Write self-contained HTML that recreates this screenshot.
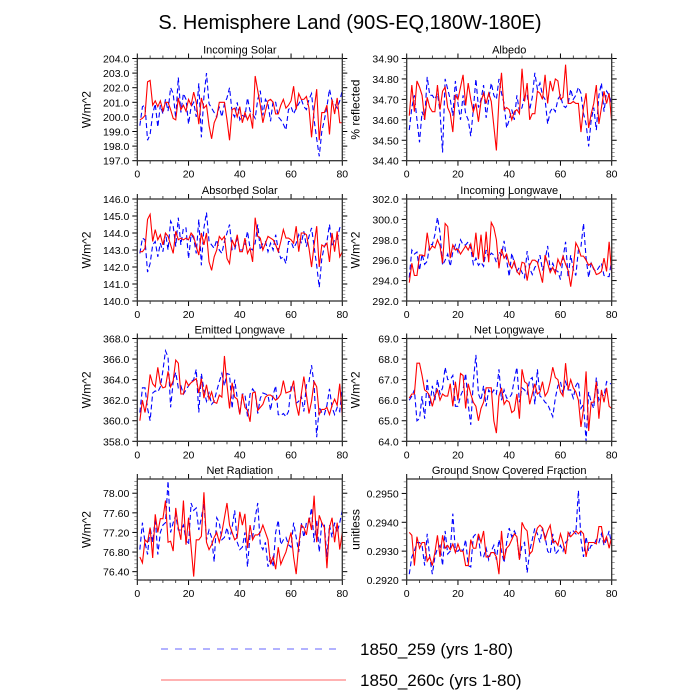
<!DOCTYPE html>
<html><head><meta charset="utf-8">
<style>
html,body{margin:0;padding:0;background:#fff;}
svg{display:block;font-family:"Liberation Sans",Arial,sans-serif;}
</style></head>
<body>
<svg id="chart" width="700" height="700" viewBox="0 0 700 700">
<text x="350" y="29" text-anchor="middle" font-size="20">S. Hemisphere Land (90S-EQ,180W-180E)</text>
<g>
<line x1="161" y1="649" x2="342" y2="649" stroke="#6666ff" stroke-width="1" stroke-dasharray="7,7"/>
<text x="360" y="655" font-size="17">1850_259 (yrs 1-80)</text>
<line x1="161" y1="680" x2="346" y2="680" stroke="#ff6666" stroke-width="1"/>
<text x="360" y="686" font-size="17">1850_260c (yrs 1-80)</text>
</g>
</svg>
<script>
const years = Array.from({length:80},(_,i)=>i+1);
const xTicks = [0,20,40,60,80];
const panelTitles = ["Incoming Solar","Albedo","Absorbed Solar","Incoming Longwave","Emitted Longwave","Net Longwave","Net Radiation","Ground Snow Covered Fraction"];
const yTitles = ["W/m^2","% reflected","W/m^2","W/m^2","W/m^2","W/m^2","W/m^2","unitless"];
const yMins = [197,34.40,140,292,358,64,76.23,0.2920];
const yMaxs = [204,34.90,146,302,368,69,78.29,0.2955];
const yTickStart = [197,34.40,140,292,358,64,76.40,0.2920];
const yTickStep = [1,0.1,1,2,2,1,0.4,0.001];
const yTickEnd = [204,34.90,146,302,368,69,78.00,0.2950];
const yDecimals = [1,2,1,1,1,1,2,4];

const red0 = [199.8,199.9,200.1,202.4,202.5,200.8,201.1,200.7,201.1,200.4,201.0,201.0,200.5,199.9,199.8,201.3,200.5,200.8,200.4,201.2,200.8,201.7,201.0,199.5,201.3,200.6,200.8,199.4,198.5,199.6,200.0,201.0,201.0,201.0,199.8,198.4,200.5,200.6,200.0,200.7,199.6,200.3,199.8,200.2,199.2,202.8,201.8,200.8,199.6,200.4,201.1,201.2,201.0,200.2,200.2,200.8,201.2,200.6,200.8,201.1,202.1,200.5,201.6,201.2,201.2,201.4,200.6,198.6,200.5,201.9,198.4,200.3,200.3,200.8,198.8,201.2,200.2,201.3,199.6,199.6];
const blue0 = [199.4,200.7,200.8,198.4,198.8,200.2,200.9,199.3,200.8,200.2,201.2,200.4,202.0,201.6,199.9,202.7,200.3,201.6,201.2,199.5,200.7,201.0,200.0,202.3,198.6,201.4,203.0,200.9,200.6,200.3,200.0,200.7,200.0,200.9,201.3,202.0,200.3,200.0,201.0,199.8,200.1,200.0,201.3,200.4,200.2,199.9,201.2,201.8,200.1,201.2,200.9,199.7,201.1,201.0,200.0,199.8,199.5,199.1,200.5,200.7,200.2,200.6,200.9,201.2,200.7,200.5,201.2,201.6,199.8,198.5,197.3,199.0,199.8,200.7,201.9,201.1,200.9,200.6,201.1,201.8];
const red1 = [34.62,34.77,34.64,34.79,34.76,34.72,34.60,34.71,34.66,34.64,34.64,34.77,34.65,34.74,34.76,34.66,34.63,34.54,34.72,34.70,34.76,34.82,34.67,34.78,34.70,34.64,34.68,34.59,34.69,34.73,34.68,34.73,34.69,34.57,34.45,34.70,34.83,34.65,34.66,34.65,34.60,34.64,34.65,34.63,34.85,34.69,34.78,34.60,34.63,34.63,34.74,34.73,34.70,34.82,34.68,34.79,34.74,34.80,34.79,34.70,34.71,34.87,34.68,34.68,34.69,34.68,34.68,34.54,34.66,34.73,34.56,34.63,34.68,34.77,34.58,34.66,34.74,34.68,34.73,34.59];
const blue1 = [34.55,34.66,34.72,34.60,34.49,34.64,34.60,34.81,34.72,34.72,34.70,34.73,34.64,34.44,34.80,34.75,34.70,34.62,34.79,34.68,34.60,34.72,34.63,34.60,34.52,34.65,34.80,34.66,34.70,34.77,34.61,34.70,34.78,34.72,34.70,34.80,34.73,34.68,34.56,34.60,34.65,34.60,34.72,34.64,34.66,34.72,34.72,34.65,34.71,34.83,34.75,34.78,34.72,34.70,34.58,34.64,34.66,34.64,34.70,34.72,34.67,34.66,34.68,34.75,34.70,34.72,34.76,34.73,34.63,34.58,34.47,34.60,34.66,34.55,34.72,34.78,34.64,34.74,34.72,34.68];
const red2 = [142.9,142.9,143.1,144.8,145.1,143.5,144.2,143.6,143.9,143.3,144.0,143.8,143.3,142.8,144.1,143.6,143.7,143.6,143.7,143.6,144.0,143.8,143.2,142.7,144.0,143.3,144.0,142.3,141.8,142.6,143.0,143.8,143.6,143.8,142.5,142.2,143.6,143.2,143.9,142.9,142.9,143.7,142.8,143.1,142.3,144.9,143.8,143.7,143.0,143.4,143.8,143.7,143.6,143.3,142.9,143.5,144.2,143.7,143.7,143.6,143.4,144.4,142.9,144.0,144.0,143.9,143.1,142.0,143.3,144.4,142.0,143.3,143.2,143.4,142.3,144.0,142.9,144.1,142.6,142.9];
const blue2 = [142.8,143.7,143.6,141.7,142.2,143.3,143.5,142.6,143.4,142.9,144.0,143.0,144.7,144.4,143.2,144.9,143.3,144.3,144.3,142.5,143.9,143.7,142.8,144.8,142.1,144.3,145.2,143.5,143.3,143.1,143.6,143.0,142.8,143.5,144.0,144.5,143.0,143.0,143.7,143.0,143.0,143.3,144.1,143.1,143.0,143.4,144.5,143.0,143.4,143.5,142.9,143.4,143.0,143.9,143.0,142.5,142.6,142.2,143.5,143.5,143.1,143.4,143.9,143.4,144.1,143.2,143.8,144.3,143.2,142.1,140.8,142.5,143.2,143.5,144.5,143.2,143.6,143.6,144.3,144.5];
const red3 = [293.8,295.7,294.5,294.5,296.5,296.5,296.4,298.7,297.0,297.4,297.2,298.0,297.4,295.7,299.6,299.3,296.2,297.5,297.0,297.1,296.6,297.0,297.4,297.0,297.6,296.3,298.7,296.1,298.5,295.8,298.8,295.8,299.7,299.2,298.0,295.2,297.1,296.2,296.6,295.6,295.2,295.9,294.9,294.6,295.8,295.7,294.0,295.5,296.0,296.0,295.8,294.8,293.8,296.5,295.7,294.8,295.3,294.7,296.1,295.5,296.4,295.6,295.0,293.4,295.2,297.7,297.2,296.4,296.4,296.0,295.5,295.7,295.2,294.6,294.7,294.9,296.2,294.9,297.8,294.7];
const blue3 = [294.3,297.0,296.6,296.8,295.0,296.6,295.6,295.9,297.6,297.5,298.5,300.2,298.7,295.5,296.0,296.6,295.4,296.8,297.5,296.8,298.0,297.5,297.5,297.8,297.2,295.6,296.2,295.5,295.8,295.4,297.0,296.2,296.7,296.5,295.8,296.8,296.5,297.9,296.0,294.4,296.7,295.7,294.9,295.3,294.8,294.3,296.9,295.2,294.6,295.3,295.6,296.5,295.0,296.0,297.4,295.0,295.7,295.0,294.9,294.1,296.2,297.8,294.3,296.5,295.1,294.5,297.0,297.3,299.6,296.2,294.3,295.7,295.1,294.9,295.3,295.7,294.5,294.4,294.4,296.1];
const red4 = [360.0,362.0,360.8,362.2,364.5,363.6,363.3,365.2,363.6,363.2,363.3,364.8,363.3,363.9,365.9,365.6,362.6,362.6,363.9,363.4,363.7,363.9,364.1,362.7,364.1,362.2,363.5,362.1,362.8,361.8,361.7,362.5,362.3,366.3,363.5,361.2,363.7,362.3,362.1,360.6,362.6,361.3,361.0,359.9,362.7,362.8,361.0,361.3,361.6,362.3,362.5,362.5,362.3,362.0,362.2,362.6,363.9,362.7,362.8,362.9,363.9,361.6,360.5,362.6,364.3,362.5,360.7,361.9,363.8,363.3,360.6,361.1,361.1,361.3,360.6,361.5,362.1,361.5,363.6,360.4];
const blue4 = [360.8,363.2,363.2,361.2,360.0,362.7,362.9,362.8,363.3,364.9,366.8,366.2,361.3,363.8,364.7,363.2,363.4,362.6,363.0,363.4,363.8,364.0,365.0,360.8,364.6,363.0,361.9,362.7,361.6,361.9,362.9,363.8,364.6,363.4,364.6,364.5,361.2,364.0,362.2,360.6,362.6,362.6,360.4,362.6,363.1,362.7,360.7,362.2,362.7,362.6,362.5,361.0,362.5,363.4,360.6,360.5,360.7,360.4,360.9,363.3,363.4,361.7,361.9,362.4,360.9,363.5,363.8,365.4,363.5,358.4,361.3,360.8,360.6,361.5,363.1,361.3,360.6,361.3,360.9,363.4];
const red5 = [66.1,66.3,66.3,67.8,67.8,67.2,66.5,66.4,66.2,65.7,66.2,66.5,66.0,66.3,66.2,66.2,66.8,65.7,66.9,66.0,67.3,67.2,65.6,66.8,66.3,65.9,65.7,65.0,65.6,65.9,66.6,66.6,66.6,65.0,64.4,66.2,66.6,65.8,66.0,65.9,65.4,65.5,66.3,65.1,67.5,66.9,66.8,65.8,66.3,66.8,66.3,66.4,66.9,66.2,66.4,66.9,67.6,67.1,67.0,66.4,66.2,67.8,66.5,67.0,66.6,66.4,66.0,64.7,65.6,67.4,64.5,65.9,65.9,66.9,65.1,66.5,65.9,66.6,65.7,65.6];
const blue5 = [66.0,66.2,66.5,65.0,65.1,66.2,65.1,67.0,65.7,66.7,66.0,67.0,66.3,66.6,67.6,67.0,67.0,67.2,65.7,65.7,66.2,66.5,67.3,65.8,64.8,66.9,68.2,66.3,66.0,66.7,65.7,66.5,66.3,66.5,66.3,67.5,66.0,66.5,66.1,66.1,66.3,67.0,67.6,65.9,66.6,66.5,66.3,67.0,67.1,65.8,67.5,66.2,66.1,65.9,65.8,65.5,65.2,66.1,66.7,66.9,66.3,66.9,66.5,66.5,66.1,66.7,66.9,65.6,65.8,64.0,66.4,65.9,65.6,67.1,66.0,66.3,66.2,66.9,66.8,66.8];
const red6 = [76.70,76.58,77.05,77.00,77.30,76.68,77.57,77.20,77.48,77.48,77.85,77.00,77.02,76.82,77.70,77.30,77.05,77.85,76.95,77.50,76.90,76.30,77.05,77.05,77.12,78.02,77.00,76.85,76.95,77.10,77.20,77.00,77.20,77.50,77.80,77.35,77.20,77.05,77.10,77.62,77.35,77.58,76.88,77.35,77.05,77.15,77.15,77.20,77.35,77.20,77.05,76.55,76.70,76.45,76.90,76.55,76.68,76.80,77.00,77.20,76.70,76.35,76.95,77.35,77.30,77.15,77.50,77.25,77.95,77.00,77.55,77.40,77.30,76.47,77.30,77.50,77.00,77.40,76.85,77.20];
const blue6 = [76.85,77.40,77.00,76.75,77.30,77.00,77.50,76.75,77.20,77.35,77.40,78.25,77.20,77.40,77.55,77.25,77.25,77.35,77.05,76.95,77.80,77.65,77.70,77.25,77.50,77.80,77.05,77.25,77.10,76.60,77.50,77.40,77.05,77.10,77.30,77.05,77.30,77.65,77.00,76.85,76.90,77.20,76.50,77.15,77.10,77.50,77.80,76.95,76.85,77.00,76.50,76.70,76.50,77.20,77.45,76.95,77.05,77.10,76.95,76.90,77.40,77.10,76.80,77.40,77.10,77.40,77.40,77.70,77.00,77.45,76.80,77.40,77.35,76.70,77.35,77.10,77.40,77.20,77.40,77.65];
const red7 = [0.29365,0.29355,0.2925,0.2935,0.2931,0.2933,0.2933,0.29265,0.2928,0.2925,0.29295,0.29355,0.2928,0.29355,0.2931,0.2932,0.29305,0.29325,0.29295,0.29325,0.2930,0.2930,0.2925,0.2925,0.2934,0.2931,0.2931,0.2936,0.2933,0.2937,0.2928,0.2928,0.29295,0.29295,0.2928,0.2922,0.2937,0.2927,0.2931,0.2932,0.2934,0.2936,0.2935,0.2927,0.2940,0.2938,0.2937,0.2929,0.2930,0.2935,0.2938,0.2939,0.2938,0.2934,0.2937,0.2939,0.2933,0.29335,0.2932,0.2936,0.2933,0.2929,0.29365,0.2935,0.2936,0.2937,0.2936,0.2937,0.2936,0.2928,0.2933,0.2933,0.2933,0.29325,0.29385,0.29385,0.2933,0.2935,0.2931,0.2935];
const blue7 = [0.2922,0.2928,0.2930,0.2933,0.2933,0.2932,0.2925,0.2936,0.2928,0.2922,0.2928,0.2931,0.2932,0.2925,0.2937,0.2929,0.2930,0.2943,0.2930,0.2930,0.2931,0.2930,0.2934,0.2925,0.29245,0.2935,0.2936,0.2935,0.2928,0.2928,0.2931,0.2927,0.2930,0.2932,0.2927,0.2934,0.2930,0.2926,0.2933,0.2938,0.2935,0.2937,0.2935,0.2927,0.2932,0.2933,0.29225,0.2930,0.2934,0.2938,0.2936,0.2933,0.2938,0.2935,0.2930,0.2929,0.2936,0.2929,0.2930,0.2932,0.2930,0.2933,0.2934,0.2937,0.2937,0.2936,0.2951,0.2934,0.2928,0.2935,0.2930,0.2932,0.2932,0.2934,0.2933,0.2936,0.2932,0.2934,0.2937,0.2932];

const reds = [red0,red1,red2,red3,red4,red5,red6,red7];
const blues = [blue0,blue1,blue2,blue3,blue4,blue5,blue6,blue7];

const NS = "http://www.w3.org/2000/svg";
const svg = document.getElementById('chart');
const colX = [137.3, 406.7];
const rowY = [[58.5,160.7],[199,301],[338.5,441.3],[479,580]];
const W = 205;
function mk(tag, attrs, parent){ const e=document.createElementNS(NS,tag); for(const k in attrs) e.setAttribute(k,attrs[k]); parent.appendChild(e); return e; }
const slug = s => s.toLowerCase().replace(/[^a-z0-9]+/g,'-').replace(/^-|-$/g,'');

for(let p=0;p<8;p++){
  const c=p%2, r=Math.floor(p/2);
  const x0=colX[c], x1=x0+W, y0=rowY[r][0], y1=rowY[r][1];
  const xS = v => x0 + (v-0)/(80-0)*(x1-x0);
  const yS = v => y1 - (v-yMins[p])/(yMaxs[p]-yMins[p])*(y1-y0);
  const g = mk('g',{},svg);
  
  
  const t = mk('text',{x:(x0+x1)/2,y:y0-5,'text-anchor':'middle','font-size':'11'},g);
  t.textContent = panelTitles[p];
  
  
  const yt = mk('text',{transform:`translate(${x0-47},${(y0+y1)/2}) rotate(-90)`,'text-anchor':'middle','font-size':'12'},g);
  yt.textContent = yTitles[p];
  
  
  xTicks.forEach(v=>{
    const X=xS(v);
    mk('line',{x1:X,y1:y1,x2:X,y2:y1+5,stroke:'#000','stroke-width':1},g);
    mk('line',{x1:X,y1:y0,x2:X,y2:y0-5,stroke:'#000','stroke-width':1},g);
    const lt = mk('text',{x:X,y:y1+17,'text-anchor':'middle','font-size':'10.5'},g);
    lt.textContent = v;
    
    
  });
  for(let v=0; v<=80; v+=5){ if(v%20){ const X=xS(v);
    mk('line',{x1:X,y1:y1,x2:X,y2:y1+3,stroke:'#000','stroke-width':0.7},g);
    mk('line',{x1:X,y1:y0,x2:X,y2:y0-3,stroke:'#000','stroke-width':0.7},g);} }
  const step=yTickStep[p];
  const n=Math.round((yTickEnd[p]-yTickStart[p])/step);
  for(let i=0;i<=n;i++){
    const v=yTickStart[p]+i*step, Y=yS(v);
    mk('line',{x1:x0-5,y1:Y,x2:x0,y2:Y,stroke:'#000','stroke-width':1},g);
    mk('line',{x1:x1,y1:Y,x2:x1+5,y2:Y,stroke:'#000','stroke-width':1},g);
    const lt = mk('text',{x:x0-8,y:Y+4,'text-anchor':'end','font-size':'10.5'},g);
    lt.textContent = v.toFixed(yDecimals[p]);
    
    
  }
  for(let i=-2;i<=n*5+4;i++){
    const v=yTickStart[p]+i*step/5;
    if(i%5===0 || v<yMins[p]-1e-9 || v>yMaxs[p]+1e-9) continue;
    const Y=yS(v);
    mk('line',{x1:x0-3,y1:Y,x2:x0,y2:Y,stroke:'#555','stroke-width':0.6},g);
    mk('line',{x1:x1,y1:Y,x2:x1+3,y2:Y,stroke:'#555','stroke-width':0.6},g);
  }
  const clip = mk('clipPath',{id:'clip'+p},g);
  mk('rect',{x:x0,y:y0,width:x1-x0,height:y1-y0},clip);
  const ptsR = years.map((yr,i)=>xS(yr).toFixed(2)+','+yS(reds[p][i]).toFixed(2)).join(' ');
  const ptsB = years.map((yr,i)=>xS(yr).toFixed(2)+','+yS(blues[p][i]).toFixed(2)).join(' ');
  const lb = mk('polyline',{points:ptsB,fill:'none',stroke:'#0000ff','stroke-width':1.1,'stroke-dasharray':'5,3','clip-path':`url(#clip${p})`},g);
  
  
  const lr = mk('polyline',{points:ptsR,fill:'none',stroke:'#ff0000','stroke-width':1.1,'clip-path':`url(#clip${p})`},g);
  
  
  const fr = mk('rect',{x:x0,y:y0,width:x1-x0,height:y1-y0,fill:'none',stroke:'#333','stroke-width':1.3},g);
  
  
}
</script>
</body></html>
